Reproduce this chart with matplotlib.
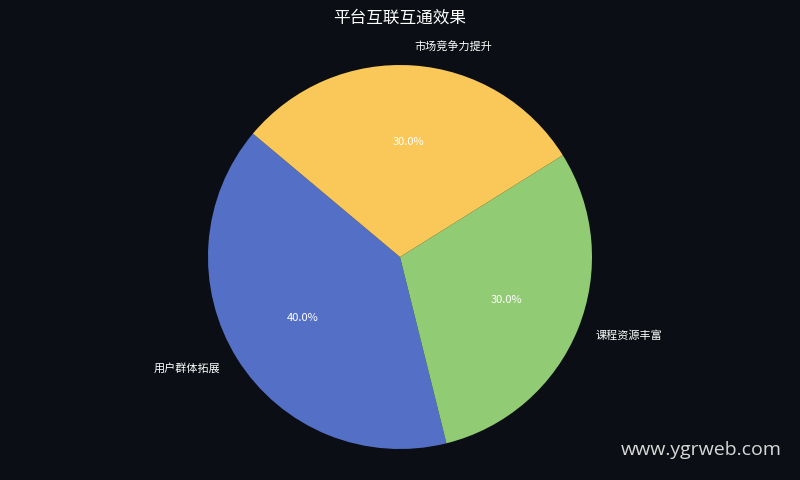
import matplotlib
matplotlib.use('Agg')
import matplotlib.pyplot as plt

plt.rcParams['font.family'] = ['Noto Sans CJK SC', 'DejaVu Sans']

labels = ['用户群体拓展', '课程资源丰富', '市场竞争力提升']
sizes = [40, 30, 30]
colors = ['#5470c6', '#91cc75', '#fac858']
bg = '#0b0e14'

fig = plt.figure(figsize=(8, 4.8), dpi=100, facecolor=bg)
ax = fig.add_axes([0, 0, 1, 1])
ax.set_facecolor(bg)

wedges, texts, autotexts = ax.pie(sizes, labels=labels, colors=colors,
                                  autopct='%1.1f%%', startangle=140,
                                  textprops={'color': 'white', 'fontsize': 8})
for t in autotexts:
    t.set_color('white')

# place the pie like the reference (radius ~192px, centre at 400,257)
r_px = 192.0
ax.set_xlim(-400 / r_px, 400 / r_px)
ax.set_ylim(-223 / r_px, 257 / r_px)
ax.set_aspect('equal')

fig.text(0.5, 0.962, '平台互联互通效果', ha='center', va='center',
         color='white', fontsize=12)
fig.text(0.977, 0.062, 'www.ygrweb.com', ha='right', va='center',
         color='#d8d8d8', fontsize=14, family=['Open Sans', 'DejaVu Sans'])

plt.savefig('out.png', dpi=100, facecolor=bg)
